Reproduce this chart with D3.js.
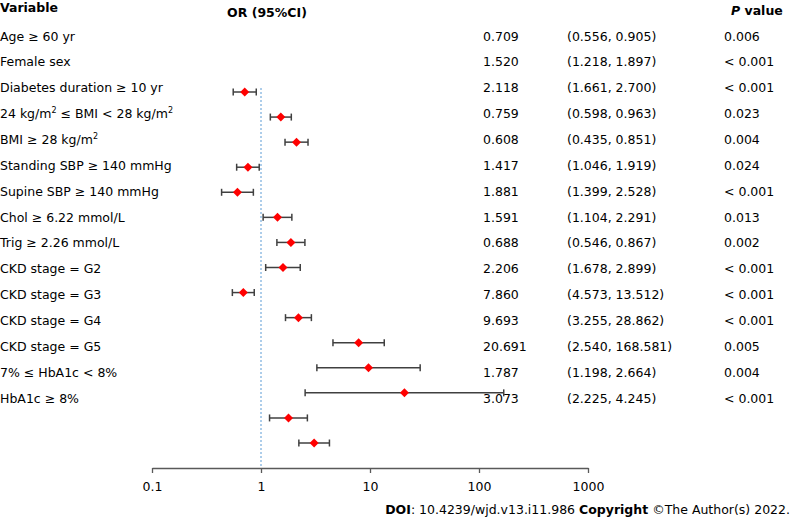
<!DOCTYPE html>
<html><head><meta charset="utf-8">
<script src="https://cdn.jsdelivr.net/npm/d3@7/dist/d3.min.js"></script>
<style>
html,body{margin:0;padding:0;background:#fff;}
svg{display:block;font-family:"DejaVu Sans",Verdana,sans-serif;}
</style></head>
<body><svg id="chart" width="793" height="523"></svg>
<script>
const variables = [
  ["Age \u2265 60 yr"],
  ["Female sex"],
  ["Diabetes duration \u2265 10 yr"],
  ["24 kg/m", "2", " \u2264 BMI < 28 kg/m", "2"],
  ["BMI \u2265 28 kg/m", "2"],
  ["Standing SBP \u2265 140 mmHg"],
  ["Supine SBP \u2265 140 mmHg"],
  ["Chol \u2265 6.22 mmol/L"],
  ["Trig \u2265 2.26 mmol/L"],
  ["CKD stage = G2"],
  ["CKD stage = G3"],
  ["CKD stage = G4"],
  ["CKD stage = G5"],
  ["7% \u2264 HbA1c < 8%"],
  ["HbA1c \u2265 8%"]
];
const orValues = [0.709,1.520,2.118,0.759,0.608,1.417,1.881,1.591,0.688,2.206,7.860,9.693,20.691,1.787,3.073];
const ciLower  = [0.556,1.218,1.661,0.598,0.435,1.046,1.399,1.104,0.546,1.678,4.573,3.255,2.540,1.198,2.225];
const ciUpper  = [0.905,1.897,2.700,0.963,0.851,1.919,2.528,2.291,0.867,2.899,13.512,28.862,168.581,2.664,4.245];
const orLabels = ["0.709","1.520","2.118","0.759","0.608","1.417","1.881","1.591","0.688","2.206","7.860","9.693","20.691","1.787","3.073"];
const ciLabels = ["(0.556, 0.905)","(1.218, 1.897)","(1.661, 2.700)","(0.598, 0.963)","(0.435, 0.851)","(1.046, 1.919)","(1.399, 2.528)","(1.104, 2.291)","(0.546, 0.867)","(1.678, 2.899)","(4.573, 13.512)","(3.255, 28.862)","(2.540, 168.581)","(1.198, 2.664)","(2.225, 4.245)"];
const pLabels = ["0.006","< 0.001","< 0.001","0.023","0.004","0.024","< 0.001","0.013","0.002","< 0.001","< 0.001","< 0.001","0.005","0.004","< 0.001"];
const axisTicks = [0.1, 1, 10, 100, 1000];

const svg = d3.select("#chart");
const FS = 12.5;
const x = d3.scaleLog().domain([0.1, 1000]).range([152, 588]);
const yLab = d3.scaleLinear().domain([0, variables.length - 1]).range([36, 398]);
const yMark = d3.scaleLinear().domain([0, orValues.length - 1]).range([92, 443]);
const axisY = 468;

// headers
svg.append("text").attr("x", 0).attr("y", 7).attr("dominant-baseline", "central")
  .attr("font-size", FS).attr("font-weight", "bold").attr("fill", "#000").text("Variable");
svg.append("text").attr("x", 267).attr("y", 12).attr("dominant-baseline", "central").attr("text-anchor", "middle")
  .attr("font-size", FS).attr("font-weight", "bold").attr("fill", "#000").text("OR (95%CI)");
const ph = svg.append("text").attr("x", 731).attr("y", 10).attr("dominant-baseline", "central")
  .attr("font-size", FS).attr("font-weight", "bold").attr("fill", "#000");
ph.append("tspan").attr("font-style", "italic").text("P");
ph.append("tspan").text(" value");

// variable labels
variables.forEach((parts, i) => {
  const t = svg.append("text").attr("x", 0).attr("y", yLab(i) + 4.5)
    .attr("font-size", FS).attr("fill", "#000");
  parts.forEach((p, j) => {
    if (p === "2" && j > 0) {
      t.append("tspan").attr("font-size", 8).attr("baseline-shift", "5").text(p);
    } else {
      t.append("tspan").text(p);
    }
  });
});

// table columns
svg.selectAll("text.or").data(orLabels).join("text").attr("class", "or")
  .attr("x", 483).attr("y", (d, i) => yLab(i)).attr("dominant-baseline", "central")
  .attr("font-size", FS).attr("fill", "#000").text(d => d);
svg.selectAll("text.ci").data(ciLabels).join("text").attr("class", "ci")
  .attr("x", 567).attr("y", (d, i) => yLab(i)).attr("dominant-baseline", "central")
  .attr("font-size", FS).attr("fill", "#000").text(d => d);
svg.selectAll("text.pv").data(pLabels).join("text").attr("class", "pv")
  .attr("x", 724).attr("y", (d, i) => yLab(i)).attr("dominant-baseline", "central")
  .attr("font-size", FS).attr("fill", "#000").text(d => d);

// reference line
svg.append("line").attr("x1", x(1)).attr("x2", x(1)).attr("y1", 88).attr("y2", axisY)
  .attr("stroke", "#5b9bd5").attr("stroke-width", 1).attr("stroke-dasharray", "2,2");

// error bars
const g = svg.append("g");
const rows = orValues.map((v, i) => ({v, lo: ciLower[i], hi: ciUpper[i], i}));
g.selectAll("line.err").data(rows).join("line").attr("class", "err")
  .attr("x1", d => x(d.lo)).attr("x2", d => x(d.hi)).attr("y1", d => yMark(d.i)).attr("y2", d => yMark(d.i))
  .attr("stroke", "#404040").attr("stroke-width", 1.5);
["lo", "hi"].forEach(k => {
  g.selectAll("line.cap" + k).data(rows).join("line").attr("class", "cap" + k)
    .attr("x1", d => x(d[k])).attr("x2", d => x(d[k])).attr("y1", d => yMark(d.i) - 3.5).attr("y2", d => yMark(d.i) + 3.5)
    .attr("stroke", "#404040").attr("stroke-width", 1.5);
});
g.selectAll("path.pt").data(rows).join("path").attr("class", "pt")
  .attr("d", d => { const cx = x(d.v), cy = yMark(d.i); return `M${cx},${cy-4.5}L${cx+4.5},${cy}L${cx},${cy+4.5}L${cx-4.5},${cy}Z`; })
  .attr("fill", "#ff0000");

// axis
const ax = svg.append("g").attr("transform", `translate(0,${axisY})`)
  .call(d3.axisBottom(x).tickValues(axisTicks).tickFormat(d => String(d)).tickSize(5).tickSizeOuter(0).tickPadding(9));
ax.select(".domain").attr("stroke", "#595959").attr("stroke-width", 1.3);
ax.selectAll(".tick line").attr("stroke", "#595959").attr("stroke-width", 1.3);
ax.selectAll(".tick text").attr("font-size", FS).attr("fill", "#000").attr("font-family", "DejaVu Sans, sans-serif");

// footer
const ft = svg.append("text").attr("x", 790).attr("y", 509).attr("dominant-baseline", "central").attr("text-anchor", "end")
  .attr("font-size", FS).attr("fill", "#000");
ft.append("tspan").attr("font-weight", "bold").text("DOI");
ft.append("tspan").text(": 10.4239/wjd.v13.i11.986 ");
ft.append("tspan").attr("font-weight", "bold").text("Copyright");
ft.append("tspan").text(" \u00A9The Author(s) 2022.");
</script></body></html>
